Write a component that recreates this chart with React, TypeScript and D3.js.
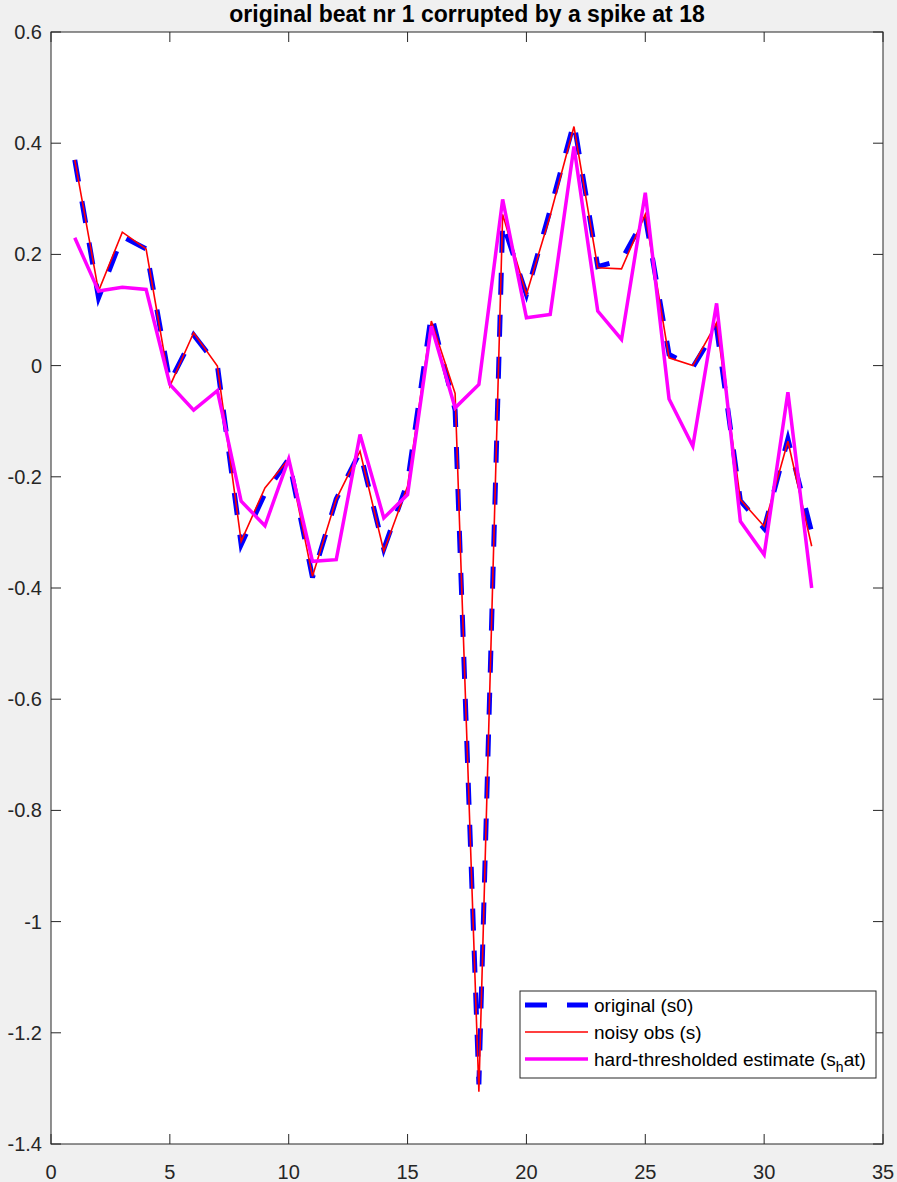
import React from "react";
import * as d3 from "d3";

// sample index 1..32
const sampleIdx = [1, 2, 3, 4, 5, 6, 7, 8, 9, 10, 11, 12, 13, 14, 15, 16, 17, 18, 19, 20, 21, 22, 23, 24, 25, 26, 27, 28, 29, 30, 31, 32];

// original beat (s0)
const original = [0.37, 0.122, 0.232, 0.21, -0.03, 0.055, 0.0, -0.322, -0.23, -0.168, -0.381, -0.24, -0.155, -0.33, -0.21, 0.092, -0.08, -1.293, 0.257, 0.128, 0.28, 0.437, 0.178, 0.19, 0.268, 0.02, -0.003, 0.068, -0.243, -0.293, -0.132, -0.3];

// noisy observation (s)
const noisy = [0.37, 0.134, 0.24, 0.21, -0.037, 0.059, -0.001, -0.316, -0.22, -0.168, -0.379, -0.24, -0.154, -0.334, -0.217, 0.08, -0.05, -1.306, 0.272, 0.128, 0.27, 0.43, 0.176, 0.174, 0.272, 0.014, 0.0, 0.077, -0.241, -0.289, -0.136, -0.325];

// hard-thresholded estimate (s_hat)
const estimate = [0.23, 0.134, 0.141, 0.137, -0.034, -0.08, -0.045, -0.244, -0.288, -0.168, -0.352, -0.349, -0.124, -0.274, -0.232, 0.071, -0.076, -0.034, 0.299, 0.086, 0.092, 0.394, 0.098, 0.047, 0.311, -0.06, -0.145, 0.112, -0.28, -0.34, -0.048, -0.4];

const xTicks = [0, 5, 10, 15, 20, 25, 30, 35];
const yTicks = [0.6, 0.4, 0.2, 0, -0.2, -0.4, -0.6, -0.8, -1, -1.2, -1.4];

const W = 897;
const H = 1182;
const left = 51;
const right = 883;
const top = 32;
const bottom = 1144;
const tickLen = 10;
const axisColor = "#262626";
const font = "'Liberation Sans', Arial, Helvetica, sans-serif";

const App = () => {
  const x = d3.scaleLinear().domain([0, 35]).range([left, right]);
  const y = d3.scaleLinear().domain([-1.4, 0.6]).range([bottom, top]);

  const line = d3
    .line<number>()
    .x((_, i) => x(sampleIdx[i]))
    .y((d) => y(d));

  const legX = 520;
  const legY = 991;
  const legW = 356;
  const legH = 87;
  const rows = [1005, 1032, 1059];

  return (
    <svg
      width={W}
      height={H}
      style={{ position: "absolute", left: 0, top: 0, background: "#f0f0f0" }}
    >
      <rect x={0} y={0} width={W} height={H} fill="#f0f0f0" />
      <rect x={left} y={top} width={right - left} height={bottom - top} fill="#fff" />

      {/* lines */}
      <path
        d={line(original) || ""}
        fill="none"
        stroke="#0000ff"
        strokeWidth={5}
        strokeDasharray="22,20"
      />
      <path d={line(noisy) || ""} fill="none" stroke="#ff0000" strokeWidth={1.6} />
      <path d={line(estimate) || ""} fill="none" stroke="#ff00ff" strokeWidth={3.5} strokeLinejoin="miter" />

      {/* axes box */}
      <rect
        x={left}
        y={top}
        width={right - left}
        height={bottom - top}
        fill="none"
        stroke={axisColor}
        strokeWidth={1}
      />
      {xTicks.map((t) => (
        <g key={"x" + t}>
          <line x1={x(t)} x2={x(t)} y1={bottom} y2={bottom - tickLen} stroke={axisColor} />
          <line x1={x(t)} x2={x(t)} y1={top} y2={top + tickLen} stroke={axisColor} />
          <text
            x={x(t)}
            y={bottom + 35}
            textAnchor="middle"
            fontFamily={font}
            fontSize={20}
            fill={axisColor}
          >
            {t}
          </text>
        </g>
      ))}
      {yTicks.map((t) => (
        <g key={"y" + t}>
          <line x1={left} x2={left + tickLen} y1={y(t)} y2={y(t)} stroke={axisColor} />
          <line x1={right} x2={right - tickLen} y1={y(t)} y2={y(t)} stroke={axisColor} />
          <text
            x={left - 9}
            y={y(t) + 7}
            textAnchor="end"
            fontFamily={font}
            fontSize={20}
            fill={axisColor}
          >
            {t}
          </text>
        </g>
      ))}

      {/* title */}
      <text
        x={(left + right) / 2}
        y={22}
        textAnchor="middle"
        fontFamily={font}
        fontSize={23}
        fontWeight="bold"
        fill="#000"
      >
        original beat nr 1 corrupted by a spike at 18
      </text>

      {/* legend */}
      <rect x={legX} y={legY} width={legW} height={legH} fill="#fff" stroke={axisColor} strokeWidth={1} />
      <line x1={525} x2={588} y1={rows[0]} y2={rows[0]} stroke="#0000ff" strokeWidth={5} strokeDasharray="22,20" />
      <line x1={525} x2={588} y1={rows[1]} y2={rows[1]} stroke="#ff0000" strokeWidth={1.6} />
      <line x1={525} x2={588} y1={rows[2]} y2={rows[2]} stroke="#ff00ff" strokeWidth={3.5} />
      <g fontFamily={font} fontSize={19} fill="#000">
        <text x={594} y={rows[0] + 7}>original (s0)</text>
        <text x={594} y={rows[1] + 7}>noisy obs (s)</text>
        <text x={594} y={rows[2] + 7}>
          hard-thresholded estimate (s
          <tspan fontSize={14} dy={6}>h</tspan>
          <tspan dy={-6}>at)</tspan>
        </text>
      </g>
    </svg>
  );
};

export default App;
